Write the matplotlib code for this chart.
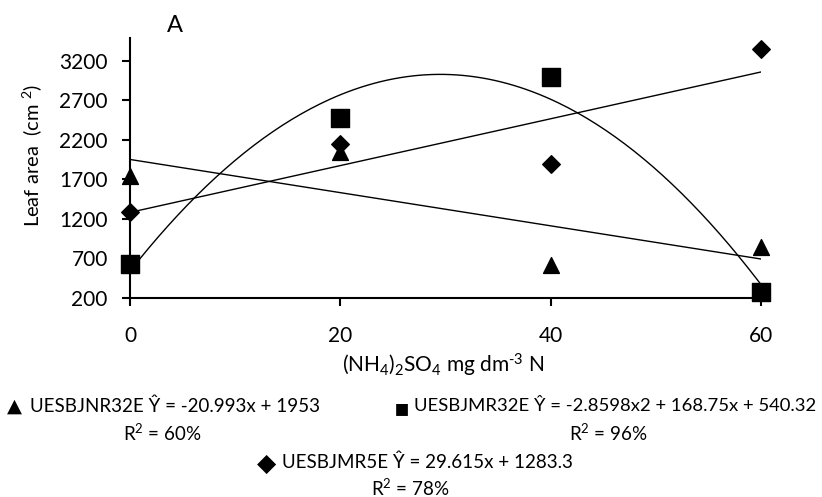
import numpy as np
import matplotlib
matplotlib.use("Agg")
import matplotlib.pyplot as plt

plt.rcParams['font.family'] = ['Lato', 'DejaVu Sans']
plt.rcParams['mathtext.fontset'] = 'custom'
plt.rcParams['mathtext.rm'] = 'Lato'
plt.rcParams['mathtext.it'] = 'Lato:italic'

# doses of N
x = [0, 20, 40, 60]

# leaf area per genotype
tri_y = [1750, 2050, 620, 850]      # UESBJNR32E
sq_y = [630, 2480, 3000, 280]       # UESBJMR32E
dia_y = [1290, 2150, 1900, 3350]    # UESBJMR5E

# regression coefficients (highest power first) as printed in the chart
tri_coef = [-20.993, 1953]
sq_coef = [-2.8598, 168.75, 540.32]
dia_coef = [29.615, 1283.3]

yticks = [200, 700, 1200, 1700, 2200, 2700, 3200]
xticks = [0, 20, 40, 60]

W, H = 822, 497
fig = plt.figure(figsize=(W / 100, H / 100), dpi=100)
ax = fig.add_axes([130 / W, 1 - 298 / H, 631 / W, 260 / H])

xs = np.linspace(0, 60, 200)
for coef in (tri_coef, sq_coef, dia_coef):
    ax.plot(xs, np.polyval(coef, xs), color='black', linewidth=1)

ax.scatter(x, tri_y, marker='^', s=130, color='black', clip_on=False, zorder=3)
ax.scatter(x, sq_y, marker='s', s=150, color='black', clip_on=False, zorder=3)
ax.scatter(x, dia_y, marker='D', s=80, color='black', clip_on=False, zorder=3)

ax.set_xlim(0, 60)
ax.set_ylim(200, 3490)
ax.set_xticks(xticks)
ax.set_yticks(yticks)
ax.tick_params(axis='both', labelsize=15, length=6, width=1.5, direction='out')
ax.tick_params(axis='x', pad=14)
ax.tick_params(axis='y', pad=10)
for s in ('top', 'right'):
    ax.spines[s].set_visible(False)
for s in ('left', 'bottom'):
    ax.spines[s].set_linewidth(1.5)

ax.set_ylabel('Leaf area  (cm $^{2}$)', fontsize=14.5)
ax.yaxis.set_label_coords(-86 / 631, 0.55)
ax.set_xlabel(r'(NH$_4$)$_2$SO$_4$ mg dm$^{\text{-}3}$ N', fontsize=15)
ax.xaxis.set_label_coords((443 - 130) / 631, -(365 - 298) / 260)
ax.xaxis.label.set_va('center')
fig.text(175 / W, 1 - 25 / H, 'A', fontsize=17, ha='center', va='center')

fs = 13.5
sym = ['DejaVu Sans']
# legend symbols drawn apart so their sizes follow the reference
fig.text(7 / W, 1 - 406 / H, '\u25B2', fontsize=14, va='center', ha='left', family=sym)
fig.text(30 / W, 1 - 406 / H, 'UESBJNR32E \u0176 = -20.993x + 1953', fontsize=fs,
         va='center', ha='left')
fig.text(162 / W, 1 - 433 / H, 'R$^{2}$ = 60%', fontsize=fs, va='center', ha='center')
fig.text(394 / W, 1 - 408 / H, '\u25AA', fontsize=17, va='center', ha='left', family=sym)
fig.text(414 / W, 1 - 406 / H, 'UESBJMR32E \u0176 = -2.8598x2 + 168.75x + 540.32', fontsize=13.3,
         va='center', ha='left')
fig.text(608 / W, 1 - 433 / H, 'R$^{2}$ = 96%', fontsize=fs, va='center', ha='center')
fig.text(257 / W, 1 - 464 / H, '\u25C6', fontsize=18, va='center', ha='left', family=sym)
fig.text(282 / W, 1 - 462 / H, 'UESBJMR5E \u0176 = 29.615x + 1283.3', fontsize=fs,
         va='center', ha='left')
fig.text(410 / W, 1 - 488 / H, 'R$^{2}$ = 78%', fontsize=fs, va='center', ha='center')

fig.savefig('out.png', dpi=100)
